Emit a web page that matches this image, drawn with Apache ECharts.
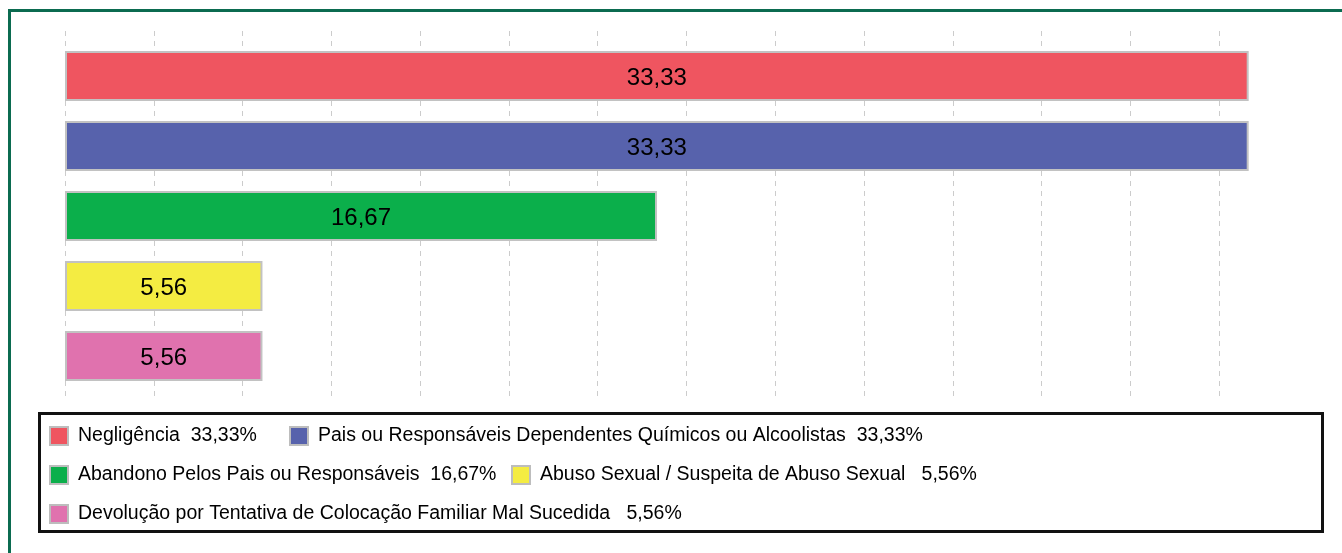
<!DOCTYPE html>
<html>
<head>
<meta charset="utf-8">
<script src="https://cdn.jsdelivr.net/npm/echarts@6/dist/echarts.min.js"></script>
<style>
  html, body { margin: 0; padding: 0; background: #fff; }
  #chart { width: 1342px; height: 553px; }
</style>
</head>
<body>
<div id="chart"></div>
<script>
// Motivos de acolhimento (%)
const categories = [
  'Negligência',
  'Pais ou Responsáveis Dependentes Químicos ou Alcoolistas',
  'Abandono Pelos Pais ou Responsáveis',
  'Abuso Sexual / Suspeita de Abuso Sexual',
  'Devolução por Tentativa de Colocação Familiar Mal Sucedida'
];
const values = [33.33, 33.33, 16.67, 5.56, 5.56];
const colors = ['#EF5560', '#5762AC', '#0BAF4B', '#F4EC42', '#E072AE'];
// spaces between name and percentage in the legend
const legendGaps = ['  ', '  ', '  ', '   ', '   '];
// legend item anchors (left, top) — one legend block per entry
const legendSpots = [[49, 426], [289, 426], [49, 465], [511, 465], [49, 504]];

const fmt = v => v.toFixed(2).replace('.', ',');
const FONT = '"Liberation Sans", Arial, Helvetica, sans-serif';

const series = categories.map((name, i) => ({
  name: name,
  type: 'bar',
  xAxisIndex: 1,
  yAxisIndex: 1,
  stack: 'one',
  barWidth: 50,
  data: [[values[i], name]],
  itemStyle: { color: colors[i], borderColor: '#c2c2c2', borderWidth: 2 },
  label: {
    show: true,
    position: 'inside',
    offset: [0, 2],
    formatter: p => fmt(p.value[0]),
    color: '#000',
    fontFamily: FONT,
    fontSize: 24
  }
}));

const legends = categories.map((name, i) => ({
  data: [name],
  left: legendSpots[i][0],
  top: legendSpots[i][1],
  padding: 0,
  orient: 'horizontal',
  icon: 'rect',
  itemWidth: 18,
  itemHeight: 18,
  selectedMode: false,
  itemStyle: { borderColor: '#bdbdbd', borderWidth: 2 },
  formatter: n => n + legendGaps[i] + fmt(values[i]) + '%',
  textStyle: { color: '#000', fontFamily: FONT, fontSize: 19.5, padding: [2, 0, 0, 5] }
}));

const chart = echarts.init(document.getElementById('chart'), null, { renderer: 'canvas' });
chart.setOption({
  animation: false,
  backgroundColor: '#fff',
  grid: [
    { left: 65, width: 1243, top: 31, height: 367 },  // grid lines
    { left: 65, width: 1243, top: 41, height: 350 }   // bars
  ],
  xAxis: [
    {
      gridIndex: 0, type: 'value', min: 0, max: 35, interval: 2.5,
      axisLine: { show: false }, axisTick: { show: false }, axisLabel: { show: false },
      splitLine: { show: true, showMaxLine: false, lineStyle: { color: '#cccccc', width: 1, type: [5, 5] } }
    },
    {
      gridIndex: 1, type: 'value', min: 0, max: 35, interval: 2.5,
      axisLine: { show: false }, axisTick: { show: false }, axisLabel: { show: false },
      splitLine: { show: false }
    }
  ],
  yAxis: [
    {
      gridIndex: 0, type: 'value', min: 0, max: 1,
      axisLine: { show: false }, axisTick: { show: false }, axisLabel: { show: false },
      splitLine: { show: false }
    },
    {
      gridIndex: 1, type: 'category', data: categories, inverse: true,
      axisLine: { show: false }, axisTick: { show: false }, axisLabel: { show: false },
      splitLine: { show: false }
    }
  ],
  legend: legends,
  series: series,
  graphic: [
    {
      type: 'rect', z: -1, silent: true,
      shape: { x: 9.5, y: 10.5, width: 1400, height: 600 },
      style: { fill: null, stroke: '#0b6b50', lineWidth: 3 }
    },
    {
      type: 'rect', silent: true,
      shape: { x: 39.5, y: 413.5, width: 1283, height: 118 },
      style: { fill: null, stroke: '#111', lineWidth: 3 }
    }
  ]
});
</script>
</body>
</html>
